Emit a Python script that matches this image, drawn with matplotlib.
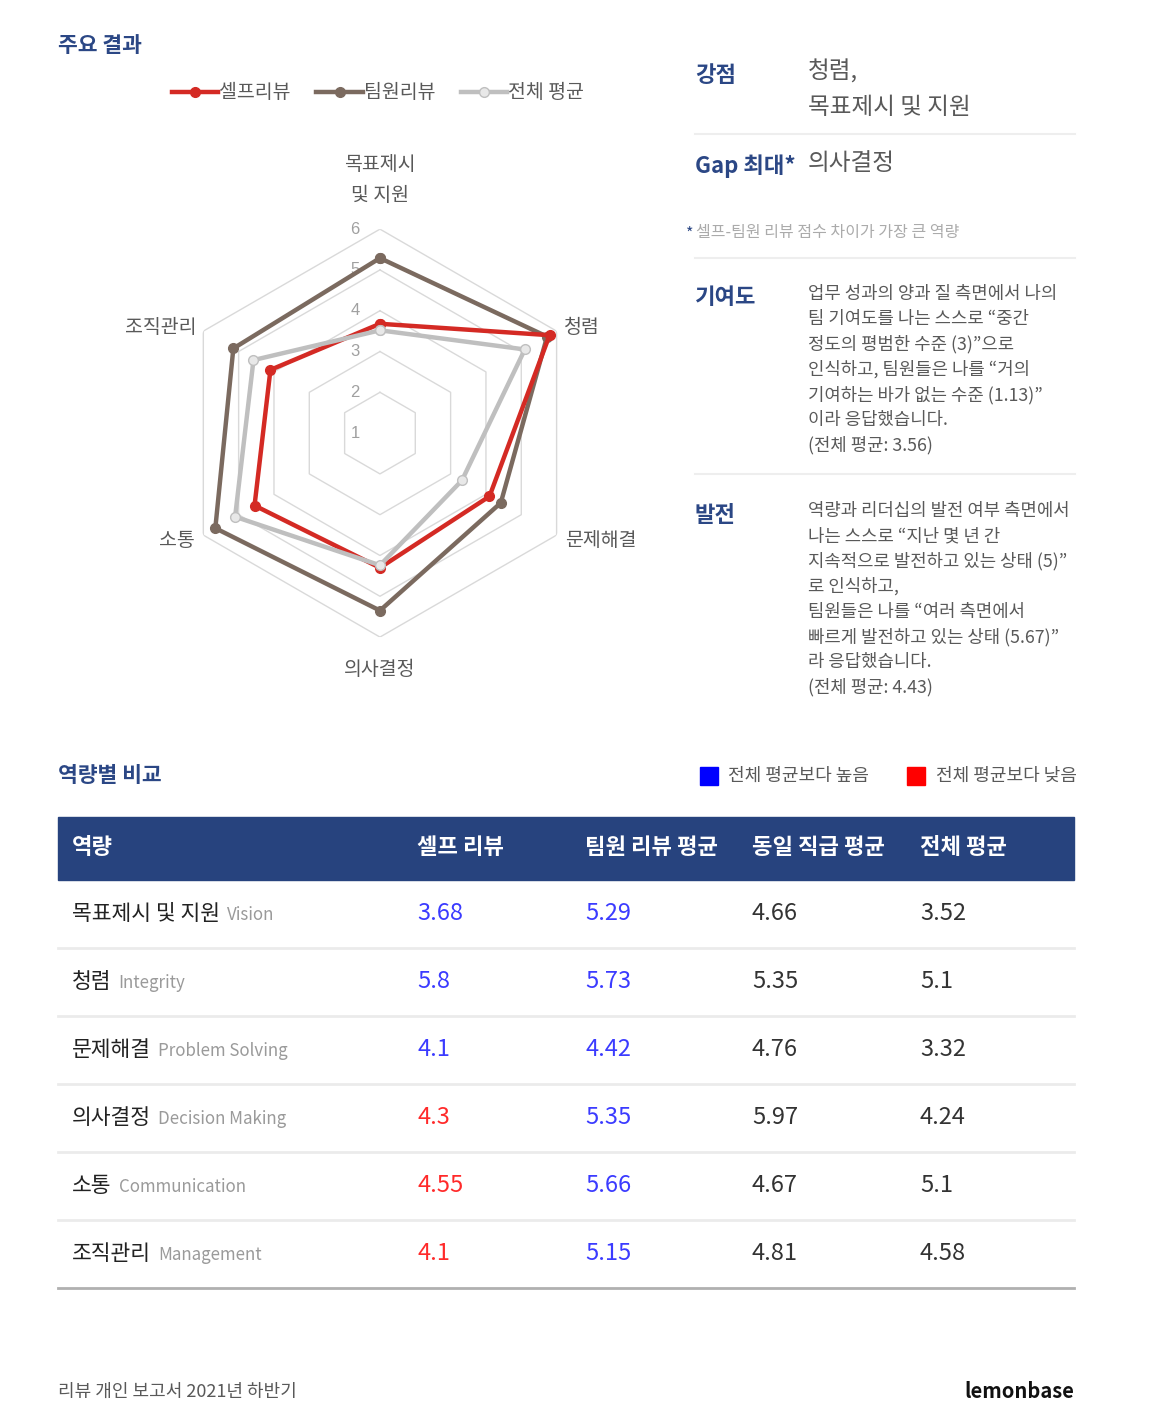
import numpy as np
import matplotlib
matplotlib.use('Agg')
import matplotlib.pyplot as plt
from matplotlib.patches import Rectangle

plt.rcParams['font.family'] = ['Noto Sans CJK KR', 'DejaVu Sans']

# data
categories = ['목표제시\n및 지원', '청렴', '문제해결', '의사결정', '소통', '조직관리']
self_review = [3.68, 5.8, 4.1, 4.3, 4.55, 4.1]
team_review = [5.29, 5.73, 4.42, 5.35, 5.66, 5.15]
overall_avg = [3.52, 5.1, 3.32, 4.24, 5.1, 4.58]
same_level_avg = [4.66, 5.35, 4.76, 5.97, 4.67, 4.81]
self_above = [True, True, True, False, False, False]   # colour used in the table
row_names = ['목표제시 및 지원', '청렴', '문제해결', '의사결정', '소통', '조직관리']
row_english = ['Vision', 'Integrity', 'Problem Solving', 'Decision Making',
               'Communication', 'Management']
r_ticks = [1, 2, 3, 4, 5, 6]

NAVY = '#2B4785'
HEAD = '#27437E'
GRAY_TXT = '#595959'
RED = '#D42A24'
BROWN = '#7B6A5F'
LIGHT = '#BFBFBF'

W, H = 1150, 1417
fig = plt.figure(figsize=(W / 100, H / 100), dpi=100)
bg = fig.add_axes([0, 0, 1, 1])
bg.set_xlim(0, W)
bg.set_ylim(H, 0)
bg.axis('off')

# ---- radar chart ----
ax = fig.add_axes([0.1530, 0.5504, 0.3548, 0.2879], projection='polar')
ax.patch.set_alpha(0)
ax.set_theta_offset(np.pi / 2)
ax.set_theta_direction(-1)
ax.set_ylim(1, 6)
ax.grid(False)
ax.spines['polar'].set_visible(False)
ax.set_xticks([])
ax.set_yticks([])

n = len(categories)
ang = np.linspace(0, 2 * np.pi, n, endpoint=False).tolist()
ang_c = ang + ang[:1]

for lev in r_ticks[1:]:
    ax.plot(ang_c, [lev] * (n + 1), color='#D9D9D9', lw=1, zorder=1)
for v in r_ticks:
    ax.annotate(str(v), xy=(0, v), xytext=(-18, 0), textcoords='offset points',
                ha='center', va='center', fontsize=12, color='#A0A0A0',
                family='Liberation Sans', zorder=2)

def closed(vals):
    return list(vals) + [vals[0]]

l_team, = ax.plot(ang_c, closed(team_review), color=BROWN, lw=3.2, marker='o',
                  ms=7, mfc=BROWN, mec=BROWN, zorder=3, label='팀원리뷰')
l_self, = ax.plot(ang_c, closed(self_review), color=RED, lw=3.2, marker='o',
                  ms=7, mfc=RED, mec=RED, zorder=4, label='셀프리뷰')
l_avg, = ax.plot(ang_c, closed(overall_avg), color=LIGHT, lw=3.2, marker='o',
                 ms=7, mfc='#E8E8E8', mec=LIGHT, zorder=5, label='전체 평균')

label_pos = [(7.2, 'center'), (6.2, 'left'), (6.25, 'left'),
             (6.8, 'center'), (6.25, 'right'), (6.2, 'right')]
for a, cat, (rr, ha) in zip(ang, categories, label_pos):
    ax.text(a, rr, cat, ha=ha, va='center', fontsize=14, color=GRAY_TXT,
            linespacing=1.6)

fig.legend(handles=[l_self, l_team, l_avg], loc='center',
           bbox_to_anchor=(378 / W, 1 - 93 / H), ncol=3, frameon=False,
           handlelength=2.4, handletextpad=0.05, columnspacing=1.3,
           fontsize=14, labelcolor=GRAY_TXT)

# ---- titles ----
bg.text(58, 45, '주요 결과', fontsize=15.5, fontweight='bold', color=NAVY, va='center')
bg.text(58, 776, '역량별 비교', fontsize=15.5, fontweight='bold', color=NAVY, va='center')

# ---- right panel ----
bg.text(695, 75, '강점', fontsize=16, fontweight='bold', color=NAVY, va='center')
bg.text(808, 72, '청렴,', fontsize=17, color=GRAY_TXT, va='center')
bg.text(808, 108, '목표제시 및 지원', fontsize=17, color=GRAY_TXT, va='center')
bg.text(695, 166, 'Gap 최대*', fontsize=16, fontweight='bold', color=NAVY, va='center')
bg.text(808, 164, '의사결정', fontsize=17, color=GRAY_TXT, va='center')
bg.text(686, 234, '*', fontsize=11.5, color=NAVY, va='center')
bg.text(696, 233, '셀프-팀원 리뷰 점수 차이가 가장 큰 역량', fontsize=11.5,
        color='#ABABAB', va='center')
for yy in (134, 258, 474):
    bg.plot([695, 1075], [yy, yy], color='#EEEEEE', lw=1.5)

contrib = ['업무 성과의 양과 질 측면에서 나의',
           '팀 기여도를 나는 스스로 “중간',
           '정도의 평범한 수준 (3)”으로',
           '인식하고, 팀원들은 나를 “거의',
           '기여하는 바가 없는 수준 (1.13)”',
           '이라 응답했습니다.',
           '(전체 평균: 3.56)']
growth = ['역량과 리더십의 발전 여부 측면에서',
          '나는 스스로 “지난 몇 년 간',
          '지속적으로 발전하고 있는 상태 (5)”',
          '로 인식하고,',
          '팀원들은 나를 “여러 측면에서',
          '빠르게 발전하고 있는 상태 (5.67)”',
          '라 응답했습니다.',
          '(전체 평균: 4.43)']
bg.text(695, 297, '기여도', fontsize=16, fontweight='bold', color=NAVY, va='center')
for i, line in enumerate(contrib):
    bg.text(808, 294 + i * 25.2, line, fontsize=12.8, color=GRAY_TXT, va='center')
bg.text(695, 515, '발전', fontsize=16, fontweight='bold', color=NAVY, va='center')
for i, line in enumerate(growth):
    bg.text(808, 511 + i * 25.2, line, fontsize=12.8, color=GRAY_TXT, va='center')

# ---- table legend ----
bg.add_patch(Rectangle((700, 767), 18, 18, color='#0000FF'))
bg.text(728, 776, '전체 평균보다 높음', fontsize=13, color=GRAY_TXT, va='center')
bg.add_patch(Rectangle((907, 767), 18, 18, color='#FF0000'))
bg.text(936, 776, '전체 평균보다 낮음', fontsize=13, color=GRAY_TXT, va='center')

# ---- table ----
bg.add_patch(Rectangle((58, 817), 1016, 63, color=HEAD))
col_x = [72, 417, 585, 752, 920]
headers = ['역량', '셀프 리뷰', '팀원 리뷰 평균', '동일 직급 평균', '전체 평균']
for x, h in zip(col_x, headers):
    bg.text(x, 848, h, fontsize=16, fontweight='bold', color='white', va='center')

BLUE_V = '#3B3BFF'
RED_V = '#FF2A2A'
fig.canvas.draw()
renderer = fig.canvas.get_renderer()
for i in range(len(row_names)):
    y = 914 + i * 68
    t = bg.text(72, y, row_names[i], fontsize=15.5, color='#222222', va='center')
    bb = t.get_window_extent(renderer)
    x_end = bg.transData.inverted().transform((bb.x1, bb.y0))[0]
    bg.text(x_end + 7, y + 1, row_english[i], fontsize=12.2, color='#9A9A9A', va='center')
    bg.text(col_x[1], y, f'{self_review[i]:g}', fontsize=17,
            color=BLUE_V if self_above[i] else RED_V, va='center')
    bg.text(col_x[2], y, f'{team_review[i]:g}', fontsize=17, color=BLUE_V, va='center')
    bg.text(col_x[3], y, f'{same_level_avg[i]:g}', fontsize=17, color='#333333', va='center')
    bg.text(col_x[4], y, f'{overall_avg[i]:g}', fontsize=17, color='#333333', va='center')
    if i < len(row_names) - 1:
        bg.plot([58, 1074], [y + 34, y + 34], color='#EBEBEB', lw=2)
bg.plot([58, 1074], [1288, 1288], color='#B0B0B0', lw=2)

# ---- footer ----
bg.text(58, 1392, '리뷰 개인 보고서 2021년 하반기', fontsize=13, color=GRAY_TXT, va='center')
bg.text(1074, 1392, 'lemonbase', fontsize=14.5, fontweight='bold', color='#111111',
        va='center', ha='right')

fig.savefig('out.png', dpi=100)
